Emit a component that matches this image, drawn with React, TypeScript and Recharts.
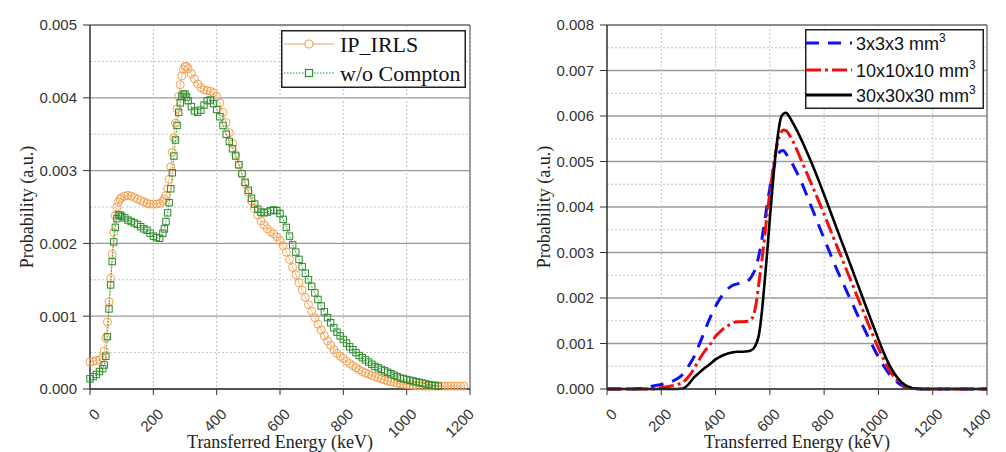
import React from 'react';
import {
  LineChart,
  Line,
  XAxis,
  YAxis,
  CartesianGrid,
  ReferenceLine,
} from 'recharts';

// left panel: IP_IRLS vs w/o Compton (values in units of 1e-3)
const ENERGY_L = [
  0, 10, 20, 30, 40, 45, 50, 55, 60, 65, 70, 75, 80, 85, 90, 95, 100, 110, 120, 130, 140, 150, 160, 170, 180, 190,
  200, 210, 220, 230, 235, 240, 245, 250, 255, 260, 265, 270, 275, 280, 285, 290, 295, 300, 305, 310, 320, 330, 340, 350, 360, 370, 380, 390,
  400, 410, 420, 430, 440, 450, 460, 470, 480, 490, 500, 510, 520, 530, 540, 550, 560, 570, 580, 590,
  600, 610, 620, 630, 640, 650, 660, 670, 680, 690, 700, 710, 720, 730, 740, 750, 760, 770, 780, 790,
  800, 810, 820, 830, 840, 850, 860, 870, 880, 890, 900, 910, 920, 930, 940, 950, 960, 970, 980, 990,
  1000, 1010, 1020, 1030, 1040, 1050, 1060, 1070, 1080, 1090, 1100, 1110, 1120, 1130, 1140, 1150, 1160, 1170, 1180,
];

const IRLS = [
  0.37, 0.38, 0.39, 0.4, 0.43, 0.52, 0.7, 0.92, 1.2, 1.52, 1.85, 2.15, 2.38, 2.5, 2.57, 2.61, 2.63, 2.65, 2.66, 2.65, 2.63, 2.61, 2.59, 2.57, 2.55, 2.54,
  2.54, 2.54, 2.55, 2.58, 2.61, 2.66, 2.75, 2.88, 3.05, 3.25, 3.45, 3.65, 3.85, 4.02, 4.18, 4.3, 4.39, 4.43, 4.43, 4.4, 4.33, 4.26, 4.19, 4.14, 4.11, 4.1, 4.09, 4.07,
  4.02, 3.93, 3.8, 3.66, 3.52, 3.37, 3.22, 3.08, 2.95, 2.82, 2.7, 2.58, 2.48, 2.39, 2.31, 2.25, 2.2, 2.16, 2.13, 2.09,
  2.04, 1.97, 1.88, 1.78, 1.67, 1.57, 1.46, 1.36, 1.26, 1.16, 1.07, 0.98, 0.89, 0.81, 0.73, 0.66, 0.6, 0.54, 0.49, 0.45,
  0.42, 0.38, 0.35, 0.32, 0.29, 0.265, 0.24, 0.22, 0.2, 0.185, 0.17, 0.155, 0.14, 0.125, 0.11, 0.1, 0.09, 0.08, 0.07, 0.065,
  0.06, 0.055, 0.05, 0.045, 0.045, 0.04, 0.04, 0.04, 0.04, 0.04, 0.04, 0.04, 0.04, 0.04, 0.04, 0.04, 0.04, 0.04, 0.04,
];

const NO_COMPTON = [
  0.14, 0.17, 0.2, 0.24, 0.28, 0.33, 0.45, 0.72, 1.1, 1.43, 1.75, 2.02, 2.22, 2.34, 2.39, 2.39, 2.37, 2.35, 2.32, 2.3, 2.28, 2.26, 2.23, 2.2, 2.18, 2.14,
  2.1, 2.08, 2.07, 2.14, 2.2, 2.3, 2.42, 2.56, 2.75, 2.97, 3.2, 3.42, 3.62, 3.8, 3.93, 4.02, 4.05, 4.05, 4.01, 3.96, 3.88, 3.82, 3.8, 3.83, 3.9, 3.96, 3.97, 3.92,
  3.84, 3.74, 3.62, 3.5, 3.4, 3.3, 3.2, 3.08, 2.96, 2.84, 2.73, 2.62, 2.54, 2.47, 2.43, 2.42, 2.43, 2.45, 2.46, 2.45,
  2.41, 2.33, 2.22, 2.1, 1.98, 1.88, 1.78, 1.68, 1.59, 1.5, 1.41, 1.32, 1.23, 1.14, 1.06, 0.98, 0.91, 0.84, 0.78, 0.73,
  0.68, 0.63, 0.58, 0.54, 0.5, 0.46, 0.43, 0.4, 0.37, 0.34, 0.31, 0.29, 0.27, 0.25, 0.23, 0.21, 0.19, 0.17, 0.15, 0.14,
  0.13, 0.12, 0.11, 0.1, 0.09, 0.08, 0.07, 0.06, 0.05, 0.05, 0.04,
];

const X_TICKS_L = [0, 200, 400, 600, 800, 1000, 1200];
const Y_TICKS_L = [0, 1, 2, 3, 4, 5];
const Y_MINOR_L = [0.5, 1.5, 2.5, 3.5, 4.5];

// right panel: detector size comparison (units of 1e-3)
const ENERGY_R = [
  0, 20, 40, 60, 80, 100, 120, 140, 160, 180, 200, 220, 240, 260, 280, 300, 320, 340, 360, 380,
  400, 420, 440, 460, 480, 500, 520, 530, 540, 550, 560, 570, 580, 590, 600, 610, 620, 630, 640, 650,
  660, 670, 680, 700, 720, 740, 760, 780, 800, 820, 840, 860, 880, 900, 920, 940, 960, 980, 1000, 1020,
  1040, 1060, 1080, 1100, 1120, 1140, 1160, 1180, 1200, 1300, 1400,
];

const CUBE_3 = [
  0, 0, 0, 0, 0, 0, 0.01, 0.03, 0.05, 0.08, 0.1, 0.13, 0.17, 0.23, 0.33, 0.5, 0.7, 0.98, 1.28, 1.57,
  1.82, 2.02, 2.17, 2.27, 2.31, 2.33, 2.38, 2.45, 2.55, 2.7, 2.95, 3.27, 3.65, 4.05, 4.42, 4.75, 5.0, 5.15, 5.23, 5.24,
  5.17, 5.07, 4.98, 4.75, 4.49, 4.2, 3.9, 3.6, 3.3, 3.01, 2.72, 2.45, 2.19, 1.93, 1.67, 1.42, 1.17, 0.93, 0.7, 0.5,
  0.33, 0.2, 0.1, 0.04, 0.01, 0, 0, 0, 0, 0, 0,
];

const CUBE_10 = [
  0, 0, 0, 0, 0, 0, 0, 0, 0, 0.01, 0.03, 0.05, 0.07, 0.1, 0.15, 0.27, 0.44, 0.65, 0.83, 0.98,
  1.16, 1.28, 1.37, 1.44, 1.48, 1.48, 1.49, 1.52, 1.62, 1.9, 2.35, 2.8, 3.3, 3.85, 4.3, 4.75, 5.15, 5.45, 5.62, 5.69,
  5.68, 5.6, 5.5, 5.25, 4.97, 4.69, 4.41, 4.13, 3.84, 3.54, 3.24, 2.95, 2.65, 2.36, 2.06, 1.77, 1.47, 1.18, 0.9, 0.64,
  0.42, 0.25, 0.13, 0.06, 0.02, 0.005, 0, 0, 0, 0, 0,
];

const CUBE_30 = [
  0, 0, 0, 0, 0, 0, 0, 0, 0, 0, 0, 0, 0, 0, 0.01, 0.1, 0.25, 0.36, 0.46, 0.55,
  0.65, 0.72, 0.77, 0.8, 0.82, 0.82, 0.83, 0.85, 0.89, 1.0, 1.2, 1.66, 2.3, 3.0, 3.75, 4.45, 5.1, 5.6, 5.95, 6.05,
  6.07, 6.0, 5.9, 5.68, 5.43, 5.16, 4.88, 4.58, 4.27, 3.95, 3.63, 3.31, 3.0, 2.68, 2.36, 2.04, 1.72, 1.4, 1.09, 0.79,
  0.53, 0.33, 0.18, 0.08, 0.03, 0.01, 0, 0, 0, 0, 0,
];

const X_TICKS_R = [0, 200, 400, 600, 800, 1000, 1200, 1400];
const Y_TICKS_R = [0, 1, 2, 3, 4, 5, 6, 7, 8];
const Y_MINOR_R = [0.5, 1.5, 2.5, 3.5, 4.5, 5.5, 6.5, 7.5];

const SANS = '"Liberation Sans", Arial, sans-serif';
const SERIF = '"Liberation Serif", "Times New Roman", serif';
const ORANGE = '#F5A04C';
const GREEN = '#2A8C2A';

const leftData = ENERGY_L.map((e, i) => ({
  e,
  irls: IRLS[i],
  noCompton: i < NO_COMPTON.length ? NO_COMPTON[i] : null,
}));

const rightData = ENERGY_R.map((e, i) => ({
  e,
  c3: CUBE_3[i],
  c10: CUBE_10[i],
  c30: CUBE_30[i],
}));

const XTick = ({ x, y, payload }: any) => (
  <text
    x={x + 11}
    y={y + 20}
    transform={`rotate(-45 ${x + 11} ${y + 20})`}
    textAnchor="end"
    fontSize={15}
    fill="#333"
    fontFamily={SANS}
  >
    {payload.value}
  </text>
);

const circleDot = (p: any) =>
  p.cy == null ? (
    <g key={`c-${p.index}`} />
  ) : (
    <circle key={`c-${p.index}`} cx={p.cx} cy={p.cy} r={4} fill="none" stroke={ORANGE} strokeWidth={1} />
  );

const squareDot = (p: any) =>
  p.cy == null ? (
    <g key={`s-${p.index}`} />
  ) : (
    <rect key={`s-${p.index}`} x={p.cx - 3.2} y={p.cy - 3.2} width={6.4} height={6.4} fill="none" stroke={GREEN} strokeWidth={1} />
  );

const yLabel = (text: string) => ({ viewBox }: any) => {
  const cx = viewBox.x + 27;
  const cy = viewBox.y + viewBox.height / 2;
  return (
    <text x={cx} y={cy} transform={`rotate(-90 ${cx} ${cy})`} textAnchor="middle" dominantBaseline="central"
      fontSize={18} fontFamily={SERIF} fill="#222">
      {text}
    </text>
  );
};

const xLabel = ({ viewBox }: any) => (
  <text x={viewBox.x + viewBox.width / 2} y={viewBox.y + 59} textAnchor="middle" fontSize={18} fontFamily={SERIF} fill="#222">
    Transferred Energy (keV)
  </text>
);

const LeftLegend = () => (
  <svg width={185} height={58} style={{ display: 'block' }}>
    <rect x={0.75} y={0.75} width={183.5} height={56.5} fill="#fff" stroke="#222" strokeWidth={1.5} />
    <line x1={3} x2={53} y1={14} y2={14} stroke="#FAC08F" strokeWidth={1.5} />
    <circle cx={28} cy={14} r={4} fill="#fff" stroke={ORANGE} strokeWidth={1.2} />
    <text x={59} y={21.5} fontSize={22} fontFamily={SERIF} fill="#111">IP_IRLS</text>
    <line x1={3} x2={53} y1={43} y2={43} stroke={GREEN} strokeWidth={1.2} strokeDasharray="1.5 1.5" />
    <rect x={24.5} y={39.5} width={7} height={7} fill="#fff" stroke={GREEN} strokeWidth={1.2} />
    <text x={59} y={50.5} fontSize={22} fontFamily={SERIF} fill="#111">w/o Compton</text>
  </svg>
);

const RIGHT_ROWS = [
  { label: '3x3x3 mm', color: '#1010F0', dash: '13 9', y: 14 },
  { label: '10x10x10 mm', color: '#F01010', dash: '15 4 3 4', y: 41 },
  { label: '30x30x30 mm', color: '#000', dash: undefined, y: 66 },
];

const RightLegend = () => (
  <svg width={179} height={80} style={{ display: 'block' }}>
    <rect x={0.75} y={0.75} width={177.5} height={78.5} fill="#fff" stroke="#222" strokeWidth={1.5} />
    {RIGHT_ROWS.map((r) => (
      <g key={r.label}>
        <line x1={1} x2={47} y1={r.y} y2={r.y} stroke={r.color} strokeWidth={3} strokeDasharray={r.dash} />
        <text x={51} y={r.y + 6.5} fontSize={18} fontFamily={SANS} fill="#111">
          {r.label}
          <tspan fontSize={12} dy={-8}>3</tspan>
        </text>
      </g>
    ))}
  </svg>
);

export default function App() {
  return (
    <div style={{ position: 'absolute', left: 0, top: 0, width: 1006, height: 452, background: '#fff' }}>
      <div style={{ position: 'absolute', left: 0, top: 0 }}>
        <LineChart width={480} height={452} data={leftData} margin={{ top: 25, right: 10, bottom: 0, left: 0 }}>
          <CartesianGrid vertical={false} horizontalValues={Y_TICKS_L} stroke="#9a9a9a" strokeWidth={1.3} />
          <CartesianGrid horizontalValues={Y_MINOR_L} verticalValues={X_TICKS_L} stroke="#c4c4c4" strokeDasharray="2 2" />
          <XAxis
            dataKey="e"
            type="number"
            domain={[0, 1200]}
            ticks={X_TICKS_L}
            height={63}
            tickSize={6}
            tickMargin={0}
            tick={<XTick />}
            axisLine={{ stroke: '#333', strokeWidth: 1.5 }}
            tickLine={{ stroke: '#333' }}
            label={xLabel}
          />
          <YAxis
            type="number"
            domain={[0, 5]}
            ticks={Y_TICKS_L}
            width={90}
            tickSize={7}
            tickMargin={6}
            tickFormatter={(v: number) => (v / 1000).toFixed(3)}
            tick={{ fontSize: 15, fill: '#333', fontFamily: SANS }}
            axisLine={{ stroke: '#333', strokeWidth: 1.5 }}
            tickLine={{ stroke: '#333' }}
            label={yLabel('Probability (a.u.)')}
          />
          <ReferenceLine y={5} stroke="#666" strokeWidth={1.2} />
          <ReferenceLine x={1200} stroke="#666" strokeWidth={1.2} />
          <Line
            dataKey="irls"
            name="IP_IRLS"
            type="linear"
            stroke="#FAC08F"
            strokeWidth={1}
            dot={circleDot}
            isAnimationActive={false}
          />
          <Line
            dataKey="noCompton"
            name="w/o Compton"
            type="linear"
            stroke={GREEN}
            strokeWidth={1}
            strokeDasharray="1.5 1.5"
            dot={squareDot}
            connectNulls={false}
            isAnimationActive={false}
          />
        </LineChart>
        <div style={{ position: 'absolute', left: 281, top: 30 }}>
          <LeftLegend />
        </div>
      </div>
      <div style={{ position: 'absolute', left: 517, top: 0 }}>
        <LineChart width={480} height={452} data={rightData} margin={{ top: 25, right: 10, bottom: 0, left: 0 }}>
          <CartesianGrid vertical={false} horizontalValues={Y_TICKS_R} stroke="#9a9a9a" strokeWidth={1.3} />
          <CartesianGrid horizontalValues={Y_MINOR_R} verticalValues={X_TICKS_R} stroke="#c4c4c4" strokeDasharray="2 2" />
          <XAxis
            dataKey="e"
            type="number"
            domain={[0, 1400]}
            ticks={X_TICKS_R}
            height={63}
            tickSize={6}
            tickMargin={0}
            tick={<XTick />}
            axisLine={{ stroke: '#333', strokeWidth: 1.5 }}
            tickLine={{ stroke: '#333' }}
            label={xLabel}
          />
          <YAxis
            type="number"
            domain={[0, 8]}
            ticks={Y_TICKS_R}
            width={90}
            tickSize={7}
            tickMargin={6}
            tickFormatter={(v: number) => (v / 1000).toFixed(3)}
            tick={{ fontSize: 15, fill: '#333', fontFamily: SANS }}
            axisLine={{ stroke: '#333', strokeWidth: 1.5 }}
            tickLine={{ stroke: '#333' }}
            label={yLabel('Probability (a.u.)')}
          />
          <ReferenceLine y={8} stroke="#666" strokeWidth={1.2} />
          <ReferenceLine x={1400} stroke="#666" strokeWidth={1.2} />
          <Line dataKey="c3" name="3x3x3 mm3" type="monotone" stroke="#1010F0" strokeWidth={3}
            strokeDasharray="13 9" dot={false} isAnimationActive={false} />
          <Line dataKey="c10" name="10x10x10 mm3" type="monotone" stroke="#F01010" strokeWidth={3}
            strokeDasharray="15 4 3 4" dot={false} isAnimationActive={false} />
          <Line dataKey="c30" name="30x30x30 mm3" type="monotone" stroke="#000" strokeWidth={2.6}
            dot={false} isAnimationActive={false} />
        </LineChart>
        <div style={{ position: 'absolute', left: 288, top: 29 }}>
          <RightLegend />
        </div>
      </div>
    </div>
  );
}
